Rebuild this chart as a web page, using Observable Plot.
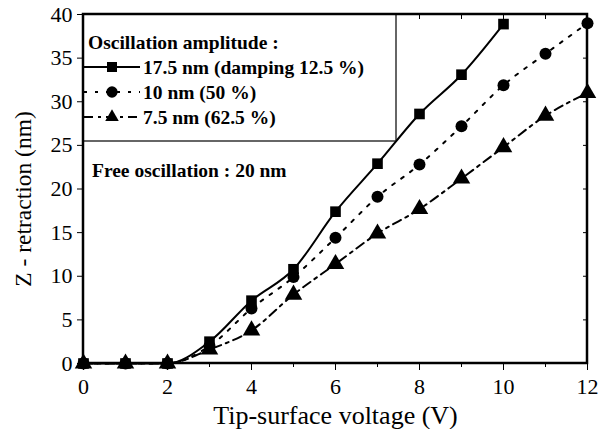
<!DOCTYPE html>
<html><head><meta charset="utf-8">
<script src="https://cdn.jsdelivr.net/npm/d3@7"></script>
<script src="https://cdn.jsdelivr.net/npm/@observablehq/plot@0.6"></script>
<style>body{margin:0;background:#fff}</style>
</head><body><div id="chart"></div>
<script>
const voltage = [0,1,2,3,4,5,6,7,8,9,10,11,12];
const amp175 = [0,0,0,2.5,7.2,10.8,17.4,22.9,28.6,33.1,38.9,null,null];
const amp10 = [0,0,0,2.0,6.3,9.9,14.4,19.1,22.8,27.2,31.9,35.5,39.0];
const amp75 = [0,0,0,1.6,3.8,7.9,11.4,14.9,17.7,21.2,24.8,28.4,31.0];
const seriesNames = ["17.5 nm (damping 12.5 %)","10 nm (50 %)","7.5 nm (62.5 %)"];
const legendTitle = "Oscillation amplitude :";
const freeText = "Free oscillation : 20 nm";
const xLabel = "Tip-surface voltage (V)";
const yLabel = "Z - retraction (nm)";
const xTicks = [0,2,4,6,8,10,12];
const yTicks = [0,5,10,15,20,25,30,35,40];

const series = [
  {name: seriesNames[0], values: amp175, symbol: "square", dash: null},
  {name: seriesNames[1], values: amp10, symbol: "circle", dash: "3,8"},
  {name: seriesNames[2], values: amp75, symbol: "triangle", dash: "9,5,3,5"}
];
const rows = s => voltage.map((v,i)=>({x:v, y:s.values[i]})).filter(d=>d.y!=null);

const marks = [];
for (const s of series) {
  marks.push(Plot.line(rows(s), {x:"x", y:"y", curve:"monotone-x", stroke:"#000", strokeWidth:2, strokeDasharray: s.dash}));
  marks.push(Plot.dot(rows(s), {x:"x", y:"y", symbol: s.symbol, r: s.symbol==="triangle"?6.5:6, fill:"#000", stroke:"none"}));
}
const font = "Liberation Serif, Times New Roman, serif";
const chart = Plot.plot({
  width:601, height:429,
  marginLeft:83, marginRight:14, marginTop:14, marginBottom:66,
  style:{fontFamily:font, fontSize:"22px", color:"#000", background:"#fff"},
  x:{domain:[0,12]},
  y:{domain:[0,40]},
  marks:[
    Plot.axisX({ticks:xTicks, tickSize:7, tickPadding:8, fontSize:22, label:null}),
    Plot.axisX({ticks:voltage, tickSize:4, tickFormat:()=>"", label:null}),
    Plot.axisX({anchor:"top", ticks:voltage, tickSize:4, dy:4, tickFormat:()=>"", label:null}),
    Plot.axisY({ticks:yTicks, tickSize:6, tickPadding:5, fontSize:22, label:null}),
    Plot.axisY({anchor:"right", ticks:yTicks, tickSize:5, dx:-5, tickFormat:()=>"", label:null}),
    ...marks,
    Plot.text([xLabel], {frameAnchor:"bottom", dy:52, lineAnchor:"middle", textAnchor:"middle", fontSize:26, fill:"#000"}),
    Plot.text([yLabel], {frameAnchor:"left", dx:-60, dy:10, rotate:-90, lineAnchor:"middle", textAnchor:"middle", fontSize:23.5, fill:"#000"})
  ]
});
document.getElementById("chart").append(chart);

// Legend box
const svg = d3.select(chart);
const g = svg.append("g").attr("font-family", font).attr("font-weight","bold").attr("font-size",19.5).attr("text-anchor","start");
const L = 83, T = 14, R = 396, B = 141;
g.append("rect").attr("x",L).attr("y",T).attr("width",R-L).attr("height",B-T).attr("fill","#fff").attr("stroke","#000").attr("stroke-width",1.2);
g.append("text").attr("x",88).attr("y",42).attr("dy","0.35em").text(legendTitle);
const rowY = [67,92,117];
series.forEach((s,i)=>{
  const y = rowY[i];
  g.append("line").attr("x1",84).attr("x2",140).attr("y1",y).attr("y2",y).attr("stroke","#000").attr("stroke-width",2).attr("stroke-dasharray", s.dash);
  g.append("path").attr("transform",`translate(112,${y})`).attr("d", d3.symbol(s.symbol==="square"?d3.symbolSquare:s.symbol==="circle"?d3.symbolCircle:d3.symbolTriangle, s.symbol==="triangle"?80:100)()).attr("fill","#000");
  g.append("text").attr("x",143).attr("y",y).attr("dy","0.35em").text(s.name);
});
g.append("text").attr("x",92).attr("y",170).attr("dy","0.35em").text(freeText);
// frame on top
const fw = 587-83, fh = 363-14;
svg.append("rect").attr("x",83).attr("y",14).attr("width",fw).attr("height",fh).attr("fill","none").attr("stroke","#000").attr("stroke-width",2.5);
</script>
</body></html>
